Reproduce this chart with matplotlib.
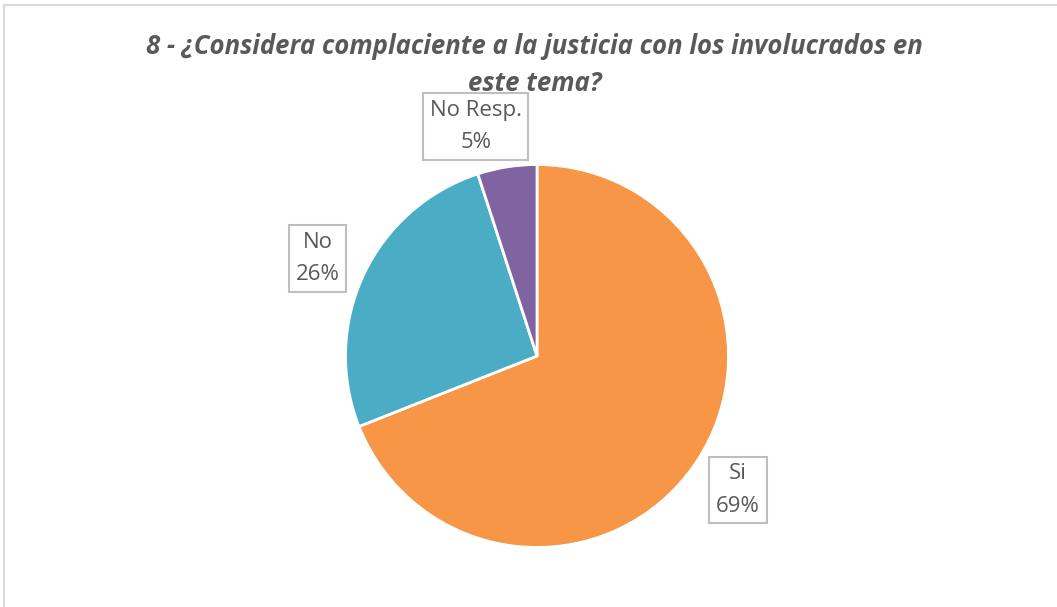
import matplotlib.pyplot as plt
from matplotlib.patches import Rectangle

# data
labels = ["Si", "No", "No Resp."]
values = [69, 26, 5]
colors = ["#F79646", "#4BACC6", "#8064A2"]
# label box centres, in pie radius units
label_pos = [(1.05, -0.70), (-1.145, 0.51), (-0.32, 1.20)]

title = "8 - ¿Considera complaciente a la justicia con los involucrados en\neste tema?"

fig = plt.figure(figsize=(10.57, 6.07), dpi=100)

# chart area frame (top and left edges visible)
fig.patches.append(Rectangle((4 / 1057, -0.1), 1.2, (607 - 5) / 607 + 0.1,
                             transform=fig.transFigure, fill=False,
                             edgecolor="#D9D9D9", linewidth=1.5))

ax = fig.add_axes([0.3269, 0.098, 0.3623, 0.631])
ax.pie(values, colors=colors, startangle=90, counterclock=False, radius=1,
       wedgeprops=dict(edgecolor="white", linewidth=2))
ax.set_xlim(-1, 1)
ax.set_ylim(-1, 1)
ax.set_aspect("equal")
ax.axis("off")

for name, v, (x, y) in zip(labels, values, label_pos):
    ax.text(x, y, f"{name}\n{v}%", ha="center", va="center", fontsize=16,
            color="#595959", family="Open Sans", linespacing=1.7, clip_on=False,
            bbox=dict(boxstyle="square,pad=0.3", facecolor="white",
                      edgecolor="#BFBFBF", linewidth=1.5))

fig.text(0.506, 0.893, title, ha="center", va="center", fontsize=18.5,
         fontweight="bold", style="italic", color="#595959",
         family="Open Sans", linespacing=1.45, zorder=5)

plt.savefig("out.png", dpi=100)
